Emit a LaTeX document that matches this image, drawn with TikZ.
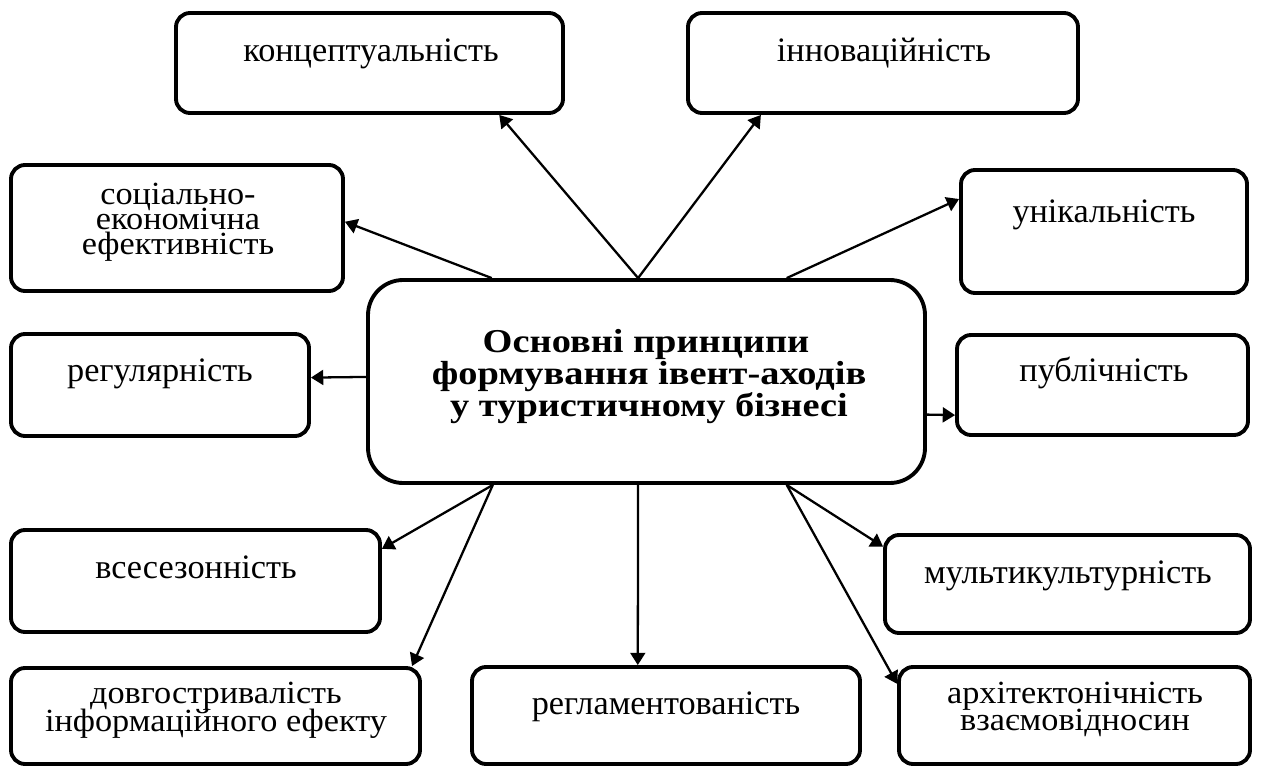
\documentclass[tikz,border=0pt]{standalone}
\usepackage{fontspec}
\setmainfont{Liberation Serif}
\newfontfamily\mlfont[FakeStretch=1.06]{Liberation Serif}
\newfontfamily\ttlfont[FakeStretch=1.15]{Liberation Serif}
\usetikzlibrary{arrows.meta,calc,fit}
\begin{document}
\begin{tikzpicture}[x=0.02cm,y=-0.02cm,
 box/.style={draw, line width=2.2pt, rounded corners=8pt, inner sep=0pt},
 cbox/.style={draw, line width=2.2pt, rounded corners=20pt, inner sep=0pt},
 txt/.style={anchor=base, inner sep=0pt, font=\fontsize{19.5}{14}\selectfont},
 mtxt/.style={anchor=base, inner sep=0pt, font=\mlfont\fontsize{18.4}{14}\selectfont},
 ttl/.style={anchor=base, inner sep=0pt, font=\ttlfont\bfseries\fontsize{19}{18}\selectfont},
 arr/.style={line width=1.3pt, -{Triangle[length=7pt,width=8.5pt]}}]
\useasboundingbox (0,0) rectangle (1261,767);
% boxes
\node[box, fit={(176,13)(563,113)}] (konc) {};
\node[txt] (konct) at (371,62) {концептуальність};
\node[box, fit={(688,13)(1078,113)}] (innov) {};
\node[txt] (innovt) at (884,62) {інноваційність};
\node[box, fit={(11,165)(343,291)}] (soc) {};
\node[mtxt] (soct1) at (178,204) {соціально-};
\node[mtxt] (soct2) at (178,229) {економічна};
\node[mtxt] (soct3) at (178,254) {ефективність};
\node[box, fit={(961,170)(1247,293)}] (unik) {};
\node[txt] (unikt) at (1104,222) {унікальність};
\node[cbox, fit={(368,280)(925,483)}] (main) {};
\node[ttl] (mt1) at (646,352) {Основні принципи};
\node[ttl] (mt2) at (649,384) {формування івент-аходів};
\node[ttl] (mt3) at (649,416) {у туристичному бізнесі};
\node[box, fit={(11,334)(309,436)}] (reg) {};
\node[txt] (regt) at (160,381) {регулярність};
\node[box, fit={(957,335)(1248,435)}] (publ) {};
\node[txt] (publt) at (1104,381) {публічність};
\node[box, fit={(11,530)(380,632)}] (vses) {};
\node[txt] (vsest) at (196,578) {всесезонність};
\node[box, fit={(885,535)(1250,633)}] (multi) {};
\node[txt] (multit) at (1068,583) {мультикультурність};
\node[box, fit={(11,668)(420,764)}] (dovh) {};
\node[mtxt] (dovht1) at (216,703) {довгостривалість};
\node[mtxt] (dovht2) at (216,731) {інформаційного ефекту};
\node[box, fit={(472,667)(860,764)}] (regl) {};
\node[txt] (reglt) at (666,714) {регламентованість};
\node[box, fit={(899,667)(1250,764)}] (arkh) {};
\node[mtxt] (arkht1) at (1075,703) {архітектонічність};
\node[mtxt] (arkht2) at (1075,730) {взаємовідносин};
% connectors
\draw[arr] ($(main.north west)!0.485!(main.north east)$) -- ($(konc.south west)!0.832!(konc.south east)$);
\draw[arr] ($(main.north west)!0.485!(main.north east)$) -- ($(innov.south west)!0.19!(innov.south east)$);
\draw[arr] ($(main.north west)!0.224!(main.north east)$) -- ($(soc.north east)!0.452!(soc.south east)$);
\draw[arr] ($(main.north west)!0.75!(main.north east)$) -- ($(unik.north west)!0.244!(unik.south west)$);
\draw[arr] ($(main.north west)!0.478!(main.south west)$) -- ($(reg.north east)!0.43!(reg.south east)$);
\draw[arr] ($(main.north east)!0.66!(main.south east)$) -- ($(publ.north west)!0.79!(publ.south west)$);
\draw[arr] ($(main.south west)!0.226!(main.south east)$) -- ($(vses.north east)!0.196!(vses.south east)$);
\draw[arr] ($(main.south west)!0.226!(main.south east)$) -- ($(dovh.north west)!0.976!(dovh.north east)$);
\draw[arr] ($(main.south west)!0.485!(main.south east)$) -- ($(regl.north west)!0.428!(regl.north east)$);
\draw[arr] ($(main.south west)!0.75!(main.south east)$) -- ($(multi.north west)!0.133!(multi.south west)$);
\draw[arr] ($(main.south west)!0.75!(main.south east)$) -- ($(arkh.north west)!0.186!(arkh.south west)$);
\end{tikzpicture}
\end{document}
